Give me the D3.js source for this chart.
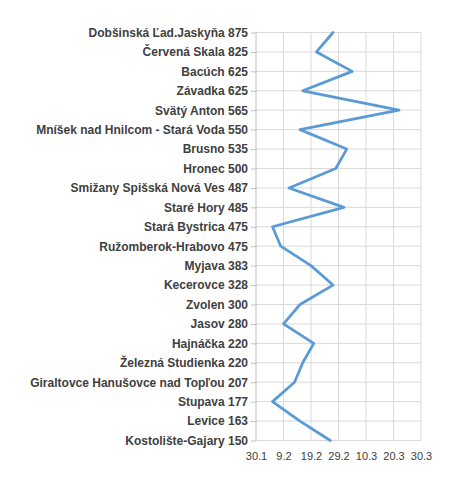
<!DOCTYPE html>
<html>
<head>
<meta charset="utf-8">
<script src="https://cdn.jsdelivr.net/npm/d3@7"></script>
<style>
  html, body { margin: 0; padding: 0; background: #fff; }
  svg { display: block; }
</style>
</head>
<body>
<svg id="chart" width="474" height="480"></svg>
<script>
const stations = [
  "Dobšinská Ľad.Jaskyňa 875",
  "Červená Skala 825",
  "Bacúch 625",
  "Závadka 625",
  "Svätý Anton 565",
  "Mníšek nad Hnilcom - Stará Voda 550",
  "Brusno 535",
  "Hronec 500",
  "Smižany Spišská Nová Ves 487",
  "Staré Hory 485",
  "Stará Bystrica 475",
  "Ružomberok-Hrabovo 475",
  "Myjava 383",
  "Kecerovce 328",
  "Zvolen 300",
  "Jasov 280",
  "Hajnáčka 220",
  "Železná Studienka 220",
  "Giraltovce Hanušovce nad Topľou 207",
  "Stupava 177",
  "Levice 163",
  "Kostolište-Gajary 150"
];
const dates = [
  "2024-02-27", "2024-02-21", "2024-03-05", "2024-02-16", "2024-03-22",
  "2024-02-15", "2024-03-03", "2024-02-28", "2024-02-11", "2024-03-02",
  "2024-02-05", "2024-02-08", "2024-02-19", "2024-02-27", "2024-02-15",
  "2024-02-09", "2024-02-20", "2024-02-16", "2024-02-13", "2024-02-05",
  "2024-02-15", "2024-02-26"
];
const tickDates = ["2024-01-30", "2024-02-09", "2024-02-19", "2024-02-29", "2024-03-10", "2024-03-20", "2024-03-30"];

const parse = d3.timeParse("%Y-%m-%d");
const data = stations.map((s, i) => ({ name: s, date: parse(dates[i]) }));
const ticks = tickDates.map(parse);

const mLeft = 256, mRight = 421, mTop = 32.5, mBottom = 440.5;
const svg = d3.select("#chart");

const x = d3.scaleTime().domain([ticks[0], ticks[ticks.length - 1]]).range([mLeft, mRight]);
const y = d3.scalePoint().domain(stations).range([mTop, mBottom]).padding(0);

// horizontal gridlines
svg.append("g").selectAll("line").data(stations).join("line")
  .attr("x1", mLeft).attr("x2", mRight)
  .attr("y1", d => y(d)).attr("y2", d => y(d))
  .attr("stroke", "#d9d9d9").attr("stroke-width", 1);

// vertical gridlines
svg.append("g").selectAll("line").data(ticks.slice(1)).join("line")
  .attr("x1", d => x(d)).attr("x2", d => x(d))
  .attr("y1", mTop).attr("y2", mBottom)
  .attr("stroke", "#d9d9d9").attr("stroke-width", 1);

// y axis
const yAxis = d3.axisLeft(y).tickSize(5).tickPadding(3);
const gy = svg.append("g").attr("transform", `translate(${mLeft},0)`).call(yAxis);
gy.select(".domain").attr("stroke", "#bfbfbf").attr("d", `M0,${mTop}V${mBottom}`);
gy.selectAll(".tick line").attr("stroke", "#bfbfbf");
gy.selectAll(".tick text")
  .attr("fill", "#404040")
  .style("font-family", "'Liberation Sans', Arial, sans-serif")
  .style("font-size", "12px")
  .style("font-weight", "bold");

// x axis labels
const xAxis = d3.axisBottom(x).tickValues(ticks).tickFormat(d3.timeFormat("%-d.%-m")).tickSize(0).tickPadding(12);
const gx = svg.append("g").attr("transform", `translate(0,${mBottom})`).call(xAxis);
gx.select(".domain").remove();
gx.selectAll(".tick text")
  .attr("fill", "#404040")
  .style("font-family", "'Liberation Sans', Arial, sans-serif")
  .style("font-size", "11px");

// line
const line = d3.line().x(d => x(d.date)).y(d => y(d.name));
svg.append("path").datum(data)
  .attr("d", line)
  .attr("fill", "none")
  .attr("stroke", "#5b9bd5")
  .attr("stroke-width", 2.75)
  .attr("stroke-linejoin", "round")
  .attr("stroke-linecap", "round");
</script>
</body>
</html>
